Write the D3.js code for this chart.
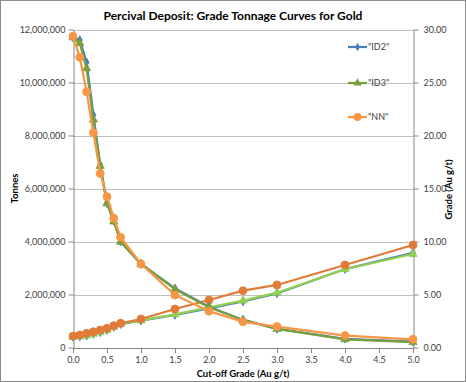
<!DOCTYPE html>
<html><head><meta charset="utf-8">
<script src="https://cdn.jsdelivr.net/npm/d3@7"></script>
<style>body{margin:0;background:#fff}svg{display:block}</style>
</head><body><svg id="c" width="466" height="382"></svg>
<script>
const cutoffs = [0, 0.1, 0.2, 0.3, 0.4, 0.5, 0.6, 0.7, 1.0, 1.5, 2.0, 2.5, 3.0, 4.0, 5.0];
const id2Tonnes = [11700000, 11600000, 10760000, 8770000, 6890000, 5450000, 4780000, 4000000, 3150000, 2230000, 1540000, 1040000, 700000, 330000, 220000];
const id3Tonnes = [11700000, 11480000, 10530000, 8600000, 6850000, 5440000, 4750000, 3990000, 3150000, 2200000, 1520000, 1040000, 700000, 310000, 200000];
const nnTonnes  = [11750000, 10950000, 9650000, 8100000, 6570000, 5690000, 4880000, 4160000, 3150000, 1980000, 1370000, 970000, 790000, 450000, 310000];
const id2Grade = [1.00, 1.04, 1.12, 1.28, 1.44, 1.65, 1.95, 2.20, 2.53, 3.07, 3.70, 4.34, 5.10, 7.40, 8.94];
const id3Grade = [1.00, 1.04, 1.12, 1.28, 1.44, 1.66, 1.96, 2.22, 2.55, 3.13, 3.79, 4.42, 5.17, 7.38, 8.82];
const nnGrade  = [1.08, 1.18, 1.34, 1.49, 1.65, 1.81, 2.06, 2.28, 2.69, 3.63, 4.48, 5.36, 5.90, 7.78, 9.67];
const seriesNames = ['"ID2"', '"ID3"', '"NN"'];
const xTicks = [0, 0.5, 1.0, 1.5, 2.0, 2.5, 3.0, 3.5, 4.0, 4.5, 5.0];
const leftTicks = [0, 2000000, 4000000, 6000000, 8000000, 10000000, 12000000];
const rightTicks = [0, 5, 10, 15, 20, 25, 30];

const svg = d3.select('#c');
const font = 'Lato, "Open Sans", sans-serif';
const L = 73, R = 413, T = 29.5, B = 347.5;
const x = d3.scaleLinear().domain([0, 5]).range([L, R]);
const yL = d3.scaleLinear().domain([0, 12000000]).range([B, T]);
const yR = d3.scaleLinear().domain([0, 30]).range([B, T]);

svg.append('rect').attr('x', 0.5).attr('y', 0.5).attr('width', 465).attr('height', 381)
  .attr('fill', '#fff').attr('stroke', '#8c8c8c');

// gridlines
svg.append('g').selectAll('line').data(leftTicks.slice(1)).join('line')
  .attr('x1', L).attr('x2', R).attr('y1', d => Math.round(yL(d)) + 0.5).attr('y2', d => Math.round(yL(d)) + 0.5)
  .attr('stroke', '#bfbfbf').attr('stroke-width', 1);

function styleAxis(g) {
  g.selectAll('path.domain').attr('stroke', '#868686');
  g.selectAll('.tick line').attr('stroke', '#868686');
  g.selectAll('text').attr('fill', '#404040').attr('font-family', font).attr('font-size', 9);
}
const fmtInt = d3.format(',');
svg.append('g').attr('transform', `translate(${L + 0.5},0)`)
  .call(d3.axisLeft(yL).tickValues(leftTicks).tickFormat(fmtInt).tickSize(5).tickSizeOuter(0).tickPadding(3))
  .call(styleAxis);
svg.append('g').attr('transform', `translate(${R + 0.5},0)`)
  .call(d3.axisRight(yR).tickValues(rightTicks).tickFormat(d3.format('.2f')).tickSize(5).tickSizeOuter(0).tickPadding(5))
  .call(styleAxis);
svg.append('g').attr('transform', `translate(0,${B + 0.5})`)
  .call(d3.axisBottom(x).tickValues(xTicks).tickFormat(d3.format('.1f')).tickSize(5).tickSizeOuter(0).tickPadding(4))
  .call(styleAxis);

const series = [
  {name: seriesNames[0], t: id2Tonnes, g: id2Grade, ct: '#4a7ebb', cg: '#4f81bd', m: 'diamond'},
  {name: seriesNames[1], t: id3Tonnes, g: id3Grade, ct: '#77a03c', cg: '#92d050', m: 'triangle'},
  {name: seriesNames[2], t: nnTonnes, g: nnGrade, ct: '#f79646', cg: '#e07b39', m: 'circle'}
];
const symSize = {diamond: 22, triangle: 30, circle: 50};
const symType = {diamond: d3.symbolDiamond, triangle: d3.symbolTriangle, circle: d3.symbolCircle};

function drawSeries(vals, yScale, color, m) {
  const pts = cutoffs.map((c, i) => [x(c), yScale(vals[i])]);
  svg.append('path').attr('d', d3.line()(pts)).attr('fill', 'none')
    .attr('stroke', color).attr('stroke-width', 2.25).attr('stroke-linejoin', 'round');
  svg.append('g').selectAll('path').data(pts).join('path')
    .attr('transform', d => `translate(${d[0]},${d[1]})`)
    .attr('d', d3.symbol().type(symType[m]).size(symSize[m]))
    .attr('fill', color).attr('stroke', color).attr('stroke-width', 0.8);
}
series.forEach(s => drawSeries(s.g, yR, s.cg, s.m));
series.forEach(s => drawSeries(s.t, yL, s.ct, s.m));

// legend
const legY = [47, 83, 117];
series.forEach((s, i) => {
  const g = svg.append('g').attr('transform', `translate(348,${legY[i]})`);
  g.append('line').attr('x1', 0).attr('x2', 19).attr('y1', 0).attr('y2', 0).attr('stroke', s.ct).attr('stroke-width', 2.25);
  g.append('path').attr('transform', 'translate(9.5,0)').attr('d', d3.symbol().type(symType[s.m]).size(symSize[s.m])).attr('fill', s.ct);
  g.append('text').attr('x', 20).attr('y', 0).attr('dy', '0.35em').text(s.name)
    .attr('font-family', font).attr('font-size', 9).attr('fill', '#404040');
});

// titles
svg.append('text').attr('x', 233).attr('y', 20).attr('text-anchor', 'middle')
  .attr('font-family', font).attr('font-weight', 'bold').attr('font-size', 12).attr('fill', '#000')
  .text('Percival Deposit: Grade Tonnage Curves for Gold');
svg.append('text').attr('x', 243).attr('y', 377).attr('text-anchor', 'middle')
  .attr('font-family', font).attr('font-weight', 'bold').attr('font-size', 9.5).attr('fill', '#000')
  .text('Cut-off Grade (Au g/t)');
svg.append('text').attr('transform', 'translate(18,188.5) rotate(-90)').attr('text-anchor', 'middle')
  .attr('font-family', font).attr('font-weight', 'bold').attr('font-size', 9.5).attr('fill', '#000')
  .text('Tonnes');
svg.append('text').attr('transform', 'translate(452,189.5) rotate(-90)').attr('text-anchor', 'middle')
  .attr('font-family', font).attr('font-weight', 'bold').attr('font-size', 9.5).attr('fill', '#000')
  .text('Grade (Au g/t)');
</script></body></html>
